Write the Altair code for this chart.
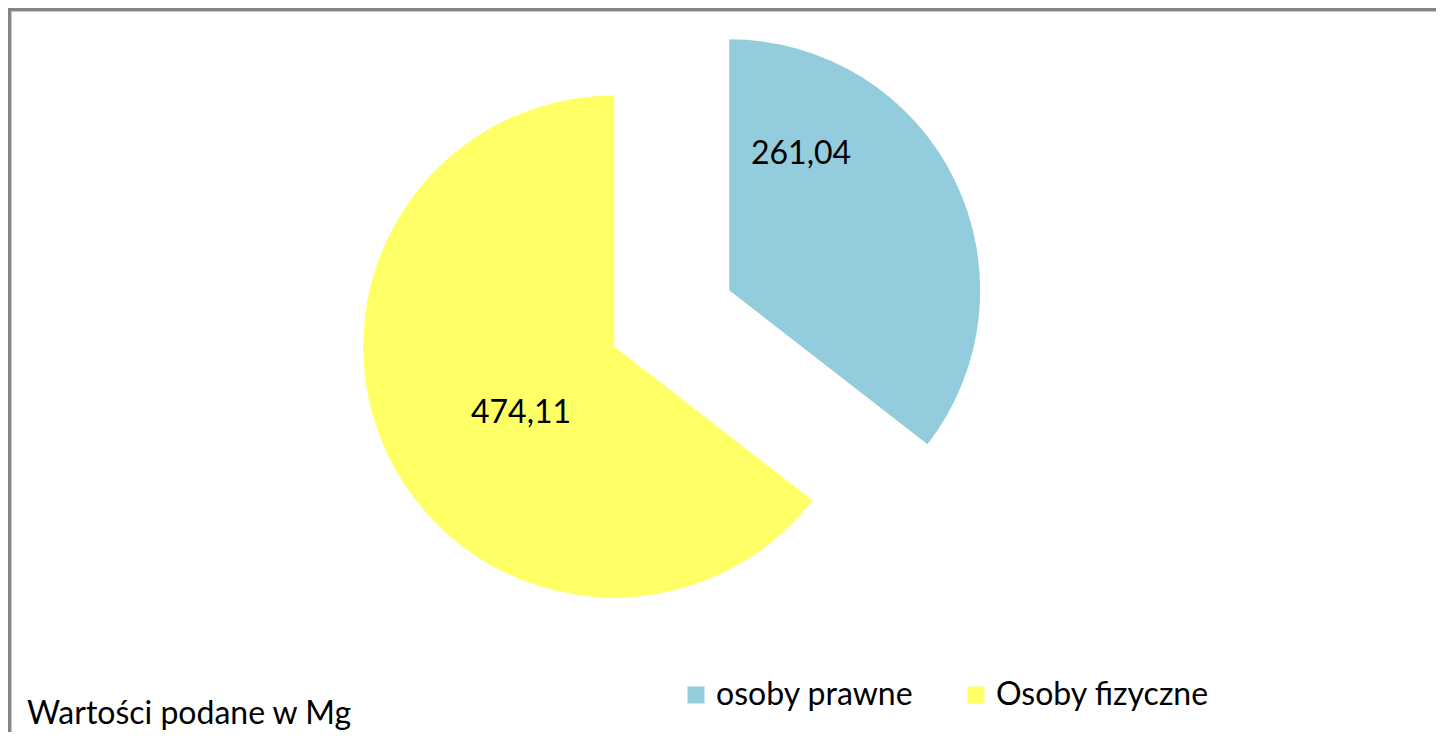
import math
import altair as alt
import pandas as pd

# ---- data ----
categories = ["osoby prawne", "Osoby fizyczne"]
values = [261.04, 474.11]
colors = ["#93CDDD", "#FFFF66"]
note_text = ["Wartości podane w Mg"]

# ---- layout / style ----
W, H = 1428, 724
CX, CY = 663.7, 310.4      # pie centre
R = 251                    # pie radius
EXPLODE = 64               # slice explosion distance
FONT = "Lato"
FS = 32

df = pd.DataFrame({
    "kategoria": categories,
    "wartosc": values,
    "kolejnosc": list(range(len(categories))),
})
total = sum(values)

color = alt.Color(
    "kategoria:N",
    scale=alt.Scale(domain=categories, range=colors),
    sort=categories,
    legend=alt.Legend(
        orient="none", legendX=672, legendY=671, direction="horizontal",
        title=None, symbolType="square", symbolSize=289, symbolStrokeWidth=0,
        symbolOpacity=1, labelFont=FONT, labelFontSize=FS, labelColor="#000000",
        labelOffset=4, columnPadding=46, padding=0, labelLimit=500,
    ),
)

base = alt.Chart(df).transform_window(
    cum="sum(wartosc)", sort=[alt.SortField("kolejnosc")], frame=[None, 0]
).transform_calculate(
    start="datum.cum - datum.wartosc",
    mid=f"2*PI*(datum.cum - datum.wartosc/2)/{total}",
).transform_calculate(
    px=f"{CX} + {EXPLODE}*sin(datum.mid)",
    py=f"{CY} - {EXPLODE}*cos(datum.mid)",
    label="replace(format(datum.wartosc, '.2f'), '.', ',')",
)

arcs = base.mark_arc(radius=R, stroke=None).encode(
    theta=alt.Theta("start:Q", scale=alt.Scale(domain=[0, total], range=[0, 2 * math.pi])),
    theta2="cum:Q",
    x=alt.X("px:Q", scale=None, axis=None),
    y=alt.Y("py:Q", scale=None, axis=None),
    color=color,
)

label_pos = {"osoby prawne": (793, 156), "Osoby fizyczne": (513, 415)}
labels = []
for cat in categories:
    lx, ly = label_pos[cat]
    labels.append(
        base.transform_filter(alt.datum.kategoria == cat).mark_text(
            font=FONT, fontSize=FS, color="#000000", align="center", baseline="alphabetic"
        ).encode(x=alt.value(lx), y=alt.value(ly), text="label:N")
    )

note = alt.Chart(pd.DataFrame({"t": note_text})).mark_text(
    font=FONT, fontSize=FS, color="#000000", align="left", baseline="alphabetic"
).encode(x=alt.value(19), y=alt.value(716), text="t:N")

frame_df = pd.DataFrame({"a": [0]})
top_dark = alt.Chart(frame_df).mark_rule(color="#858585", strokeWidth=3).encode(
    x=alt.value(0), x2=alt.value(W + 20), y=alt.value(1.5))
top_light = alt.Chart(frame_df).mark_rule(color="#C8C8C8", strokeWidth=1).encode(
    x=alt.value(3), x2=alt.value(W + 20), y=alt.value(3.5))
left_dark = alt.Chart(frame_df).mark_rule(color="#858585", strokeWidth=3).encode(
    x=alt.value(1.5), y=alt.value(0), y2=alt.value(H + 20))
left_light = alt.Chart(frame_df).mark_rule(color="#C8C8C8", strokeWidth=1).encode(
    x=alt.value(3.5), y=alt.value(3), y2=alt.value(H + 20))

chart = alt.layer(
    arcs, *labels, note, top_dark, top_light, left_dark, left_light
).properties(
    width=W, height=H, autosize=alt.AutoSizeParams(type="none"), padding=0,
    background="#FFFFFF",
).configure_view(stroke=None)

chart.save("out.html", embed_options={"renderer": "svg", "actions": False})
